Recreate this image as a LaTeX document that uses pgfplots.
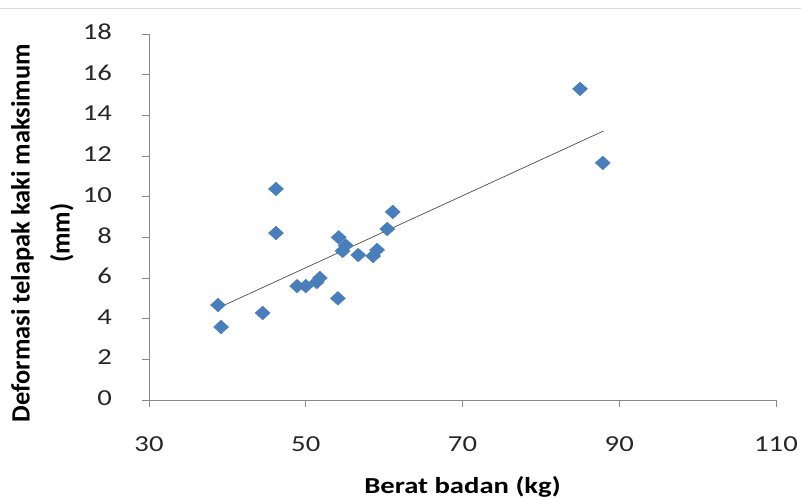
\documentclass[border=0pt]{standalone}
\usepackage{pgfplots}
\pgfplotsset{compat=1.18}
\usepackage{fontspec}
\setmainfont{Carlito}[FakeStretch=1.25]
\newfontfamily\plainfont{Carlito}
\definecolor{ptblue}{HTML}{4A7EBB}
\definecolor{axgray}{HTML}{898989}
\begin{document}
\begin{tikzpicture}
\path[use as bounding box] (-149bp,-99bp) rectangle (652bp,400bp);
\draw[line width=0.8bp, color=black!15] (-149bp,392bp) -- (652bp,392bp);
\begin{axis}[
  at={(0,0)}, anchor=south west,
  scale only axis,
  width=627bp, height=366bp,
  xmin=30, xmax=110, ymin=0, ymax=18,
  xtick={30,50,70,90,110},
  ytick={0,2,4,6,8,10,12,14,16,18},
  axis x line=bottom, axis y line=left,
  axis line style={axgray, line width=0.8bp, -},
  tick style={axgray, line width=0.8bp},
  tick align=outside,
  major tick length=7bp,
  /pgf/number format/assume math mode=true,
  tick label style={font=\fontsize{23}{27}\selectfont, text=black!85, inner sep=0pt},
  xticklabel style={anchor=base, yshift=-44bp},
  yticklabel style={anchor=east, xshift=-30bp, yshift=2bp},
  xlabel={\textbf{Berat badan (kg)}},
  xlabel style={font=\fontsize{23}{27}\selectfont, at={(axis description cs:0.5,-0.2555)}, anchor=base, inner sep=0pt},
  ylabel={\textbf{Deformasi telapak kaki maksimum}\\\textbf{(mm)}},
  ylabel style={font=\plainfont\fontsize{26.5}{40}\selectfont, align=center, at={(axis description cs:-0.170,0.456)}, anchor=center, rotate=0, inner sep=0pt},
  clip=false,
]
\addplot[black!70, line width=0.7bp, no marks] coordinates {(38.9,4.54) (88.0,13.23)};
\addplot[only marks, mark=square*, mark size=4.85bp, mark options={xscale=1.1, rotate=45, fill=ptblue, draw=ptblue}] coordinates {
(38.8,4.67) (39.2,3.59) (44.5,4.28) (46.2,10.38) (46.2,8.21)
(48.9,5.6) (50.0,5.6) (51.4,5.8) (51.8,6.0) (54.1,5.0)
(54.2,8.0) (54.7,7.33) (55.1,7.6) (56.7,7.13) (58.6,7.08)
(59.1,7.38) (60.4,8.41) (61.1,9.25) (85.0,15.3) (87.9,11.66)
};
\end{axis}
\end{tikzpicture}
\end{document}
